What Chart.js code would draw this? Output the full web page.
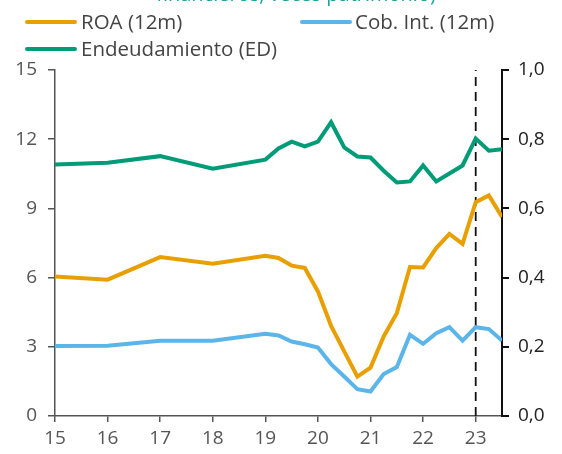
<!DOCTYPE html>
<html lang="es">
  <head>
    <meta charset="UTF-8" />
    <title>ROA, cobertura y endeudamiento</title>
    <script src="https://cdn.jsdelivr.net/npm/chart.js"></script>
    <style>
      body { margin: 0; background: #fff; font-family: "Open Sans", sans-serif; }
      #wrap { position: relative; width: 562px; height: 454px; overflow: hidden; }
      .titulo { position: absolute; left: 0; width: 592px; top: -16px; text-align: center;
        font-size: 20px; line-height: 20px; color: #1aa3a0; white-space: nowrap; }
      .ley-linea { position: absolute; height: 4px; width: 52px; border-radius: 2px; }
      .ley-texto { position: absolute; font-size: 20.5px; line-height: 21px; color: #444; white-space: nowrap; }
    </style>
  </head>
  <body>
    <div id="wrap">
      <div class="titulo">financieros, veces patrimonio)</div>
      <!-- leyenda a mano, dos columnas -->
      <div class="ley-linea" style="left:25px; top:20px; background:#e8a000"></div>
      <div class="ley-texto" style="left:81px; top:11px">ROA (12m)</div>
      <div class="ley-linea" style="left:300px; top:20px; background:#5bb5e8"></div>
      <div class="ley-texto" style="left:355px; top:11px">Cob. Int. (12m)</div>
      <div class="ley-linea" style="left:25px; top:47px; background:#009b77"></div>
      <div class="ley-texto" style="left:81px; top:38px">Endeudamiento (ED)</div>
      <canvas id="grafico"></canvas>
    </div>
  </body>
  <script>
    // fechas (año, trimestral desde 2019)
    const periodos = [15, 16, 17, 18, 19, 19.25, 19.5, 19.75, 20, 20.25, 20.5, 20.75,
      21, 21.25, 21.5, 21.75, 22, 22.25, 22.5, 22.75, 23, 23.25, 23.5];

    // ROA (12m), eje izquierdo
    const roa = [6.05, 5.91, 6.89, 6.60, 6.95, 6.85, 6.52, 6.42, 5.40, 3.91, 2.80, 1.71,
      2.10, 3.45, 4.46, 6.46, 6.44, 7.28, 7.89, 7.46, 9.27, 9.56, 8.63];

    // Cobertura de intereses (12m), eje izquierdo
    const cobInt = [3.04, 3.05, 3.26, 3.26, 3.56, 3.49, 3.23, 3.11, 2.97, 2.25, 1.71, 1.16,
      1.06, 1.82, 2.12, 3.52, 3.13, 3.59, 3.85, 3.27, 3.85, 3.77, 3.27];

    // Endeudamiento (ED), eje derecho
    const endeud = [0.727, 0.732, 0.751, 0.715, 0.741, 0.773, 0.793, 0.779, 0.793, 0.849,
      0.776, 0.750, 0.747, 0.709, 0.675, 0.678, 0.724, 0.678, 0.701, 0.724, 0.802, 0.767, 0.771];

    const ticksX = [15, 16, 17, 18, 19, 20, 21, 22, 23];
    const ticksIzq = [0, 3, 6, 9, 12, 15];
    const ticksDer = [0, 0.2, 0.4, 0.6, 0.8, 1.0];
    const corte = 23; // línea vertical punteada

    const pares = (vals) => periodos.map((x, i) => ({ x: x, y: vals[i] }));

    const serie = (label, vals, color, eje) => ({
      label: label,
      data: pares(vals),
      borderColor: color,
      backgroundColor: color,
      borderWidth: 4,
      pointRadius: 0,
      tension: 0,
      yAxisID: eje,
    });

    const gris = "#555";

    new Chart(document.querySelector("#grafico"), {
      type: "line",
      data: {
        datasets: [
          serie("ROA (12m)", roa, "#e8a000", "y"),
          serie("Cob. Int. (12m)", cobInt, "#5bb5e8", "y"),
          serie("Endeudamiento (ED)", endeud, "#009b77", "y2"),
          {
            label: "corte",
            data: [{ x: corte, y: 0 }, { x: corte, y: 15 }],
            borderColor: "#111",
            borderWidth: 1.8,
            borderDash: [9, 6],
            pointRadius: 0,
            yAxisID: "y",
          },
        ],
      },
      options: {
        responsive: true,
        maintainAspectRatio: false,
        animation: false,
        layout: { padding: { top: 70, left: 0, right: 0, bottom: 0 } },
        plugins: { legend: { display: false }, tooltip: { enabled: false } },
        scales: {
          x: {
            type: "linear",
            min: 15,
            max: 23.5,
            afterBuildTicks: (s) => { s.ticks = ticksX.map((v) => ({ value: v })); },
            afterFit: (s) => { s.height = 38; },
            grid: { drawOnChartArea: false, tickLength: 6, color: gris, lineWidth: 1.5 },
            border: { color: gris, width: 1.5 },
            ticks: { color: "#555", font: { family: "Open Sans", size: 19 }, padding: 5, maxRotation: 0 },
          },
          y: {
            position: "left",
            min: 0,
            max: 15,
            afterBuildTicks: (s) => { s.ticks = ticksIzq.map((v) => ({ value: v })); },
            afterFit: (s) => { s.width = 55; },
            grid: { drawOnChartArea: false, tickLength: 7, color: gris, lineWidth: 1.5 },
            border: { color: gris, width: 1.5 },
            ticks: { color: "#555", font: { family: "Open Sans", size: 19 }, padding: 11 },
          },
          y2: {
            position: "right",
            min: 0,
            max: 1,
            afterBuildTicks: (s) => { s.ticks = ticksDer.map((v) => ({ value: v })); },
            afterFit: (s) => { s.width = 60; },
            grid: { drawOnChartArea: false, tickLength: 7, color: "#111", lineWidth: 2 },
            border: { color: "#111", width: 2 },
            ticks: {
              color: "#222",
              font: { family: "Open Sans", size: 19 },
              padding: 9,
              callback: (v) => v.toFixed(1).replace(".", ","),
            },
          },
        },
      },
    });
  </script>
</html>
